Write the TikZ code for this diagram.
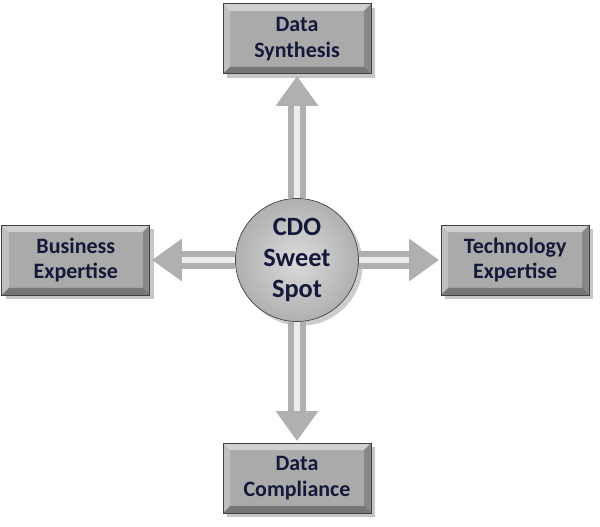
\documentclass[tikz,border=0pt]{standalone}
\usepackage{fontspec}
\setmainfont{Carlito}
\usetikzlibrary{arrows.meta,positioning,shadows}
\definecolor{boxgray}{HTML}{AAAAAA}
\definecolor{inkblue}{HTML}{14193A}
\tikzset{
  bevel/.style={
    path picture={
      \coordinate (nw) at (path picture bounding box.north west);
      \coordinate (ne) at (path picture bounding box.north east);
      \coordinate (sw) at (path picture bounding box.south west);
      \coordinate (se) at (path picture bounding box.south east);
      \fill[white, opacity=0.45] (nw) -- (ne) -- ([shift={(-4pt,-4pt)}]ne)
        -- ([shift={(4pt,-4pt)}]nw) -- cycle;
      \fill[white, opacity=0.25] (nw) -- (sw) -- ([shift={(4pt,4pt)}]sw)
        -- ([shift={(4pt,-4pt)}]nw) -- cycle;
      \fill[black, opacity=0.3] (sw) -- (se) -- ([shift={(-4pt,4pt)}]se)
        -- ([shift={(4pt,4pt)}]sw) -- cycle;
      \fill[black, opacity=0.2] (ne) -- (se) -- ([shift={(-4pt,4pt)}]se)
        -- ([shift={(-4pt,-4pt)}]ne) -- cycle;
    }
  },
  box/.style={
    draw=gray!50!black, rectangle, align=center, inner sep=2pt,
    font=\fontsize{12.5}{14.6}\selectfont\bfseries, text=inkblue,
    minimum width=29.6mm, minimum height=14mm, fill=boxgray,
    bevel, drop shadow={opacity=0.45}
  },
  hub/.style={
    draw=gray!55!black, circle, align=center, inner sep=0pt,
    font=\fontsize{15}{17.6}\selectfont\bfseries, text=inkblue,
    minimum size=24.6mm, inner color=gray!28, outer color=gray!62,
    drop shadow={opacity=0.4}
  },
  link/.style={
    line width=10pt, draw=gray!62,
    -{Triangle[length=17pt,width=23pt]}, shorten >=1pt
  },
  glint/.style={
    line width=3.5pt, draw=white!85!gray, shorten >=18pt
  },
}
\begin{document}
\begin{tikzpicture}
  \useasboundingbox (-5.94,-5.34) rectangle (6.06,5.2);
  \node[hub] (cdo) at (0,0) {CDO\\Sweet\\Spot};
  \node[box, above=24.8mm of cdo] (syn) {Data\\Synthesis};
  \node[box, below=24.2mm of cdo] (comp) {Data\\Compliance};
  \node[box, left=17mm of cdo] (bus) {Business\\Expertise};
  \node[box, right=16.4mm of cdo] (tech) {Technology\\Expertise};
  \foreach \tgt in {syn,comp,bus,tech} {
    \draw[link] (cdo) -- (\tgt);
    \draw[glint] (cdo) -- (\tgt);
  }
\end{tikzpicture}
\end{document}
